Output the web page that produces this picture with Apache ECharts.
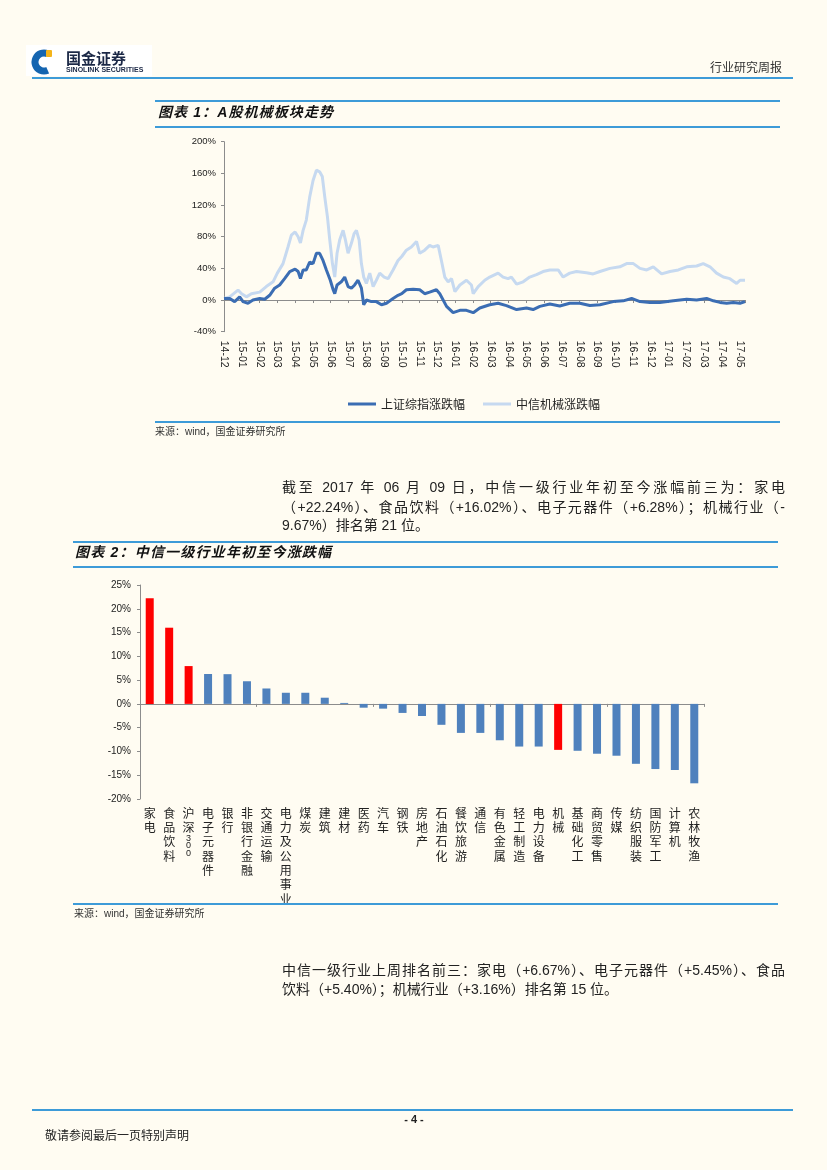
<!DOCTYPE html>
<html>
<head>
<meta charset="utf-8">
<script src="https://cdn.jsdelivr.net/npm/echarts@6/dist/echarts.min.js"></script>
<style>
  html, body { margin: 0; padding: 0; background: #FFFCF2; }
  #page { position: relative; width: 827px; height: 1170px; overflow: hidden; background: #FFFCF2; }
  #chart { position: absolute; left: 0; top: 0; width: 827px; height: 1170px; }
  .t { position: absolute; white-space: nowrap; color: #222; font-family: "Liberation Sans", "Noto Sans CJK SC", sans-serif; }
  .hl { position: absolute; height: 2px; background: #3D9BD8; }
  .title { font-weight: bold; font-style: italic; font-size: 14px; letter-spacing: 1.1px; height: 18px; line-height: 18px; color: #111; }
  .src { font-size: 10px; height: 14px; line-height: 14px; color: #333; }
  .para { position: absolute; left: 282px; width: 503px; font-size: 14px; height: 20px; line-height: 20px; color: #222;
          font-family: "Liberation Sans", "Noto Sans CJK SC", sans-serif; text-align: justify; text-align-last: justify; text-justify: inter-character; }
  .para.last { text-align: left; text-align-last: left; }
</style>
</head>
<body>
<div id="page">
  <div id="chart"></div>

  <div class="t" style="left:66px;top:50px;font-size:15px;font-weight:bold;line-height:15px;color:#1b2846;font-family:'Noto Sans CJK SC';">国金证券</div>
  <div class="t" style="left:66px;top:66px;font-size:7px;font-weight:bold;line-height:8px;color:#1b2846;">SINOLINK SECURITIES</div>
  <div class="t" style="left:710px;top:59px;font-size:12px;line-height:16px;color:#333;font-family:'Noto Sans CJK SC';">行业研究周报</div>
  <div class="hl" style="left:32px;top:77px;width:761px;"></div>

  <div class="hl" style="left:155px;top:100px;width:625px;"></div>
  <div class="t title" style="left:158px;top:103px;">图表 1：A股机械板块走势</div>
  <div class="hl" style="left:155px;top:126px;width:625px;"></div>

  <div class="hl" style="left:155px;top:421px;width:625px;"></div>
  <div class="t src" style="left:155px;top:425px;">来源：wind，国金证券研究所</div>

  <div class="para" style="top:477px;">截至 2017 年 06 月 09 日，中信一级行业年初至今涨幅前三为：家电</div>
  <div class="para" style="top:497px;">（+22.24%）、食品饮料（+16.02%）、电子元器件（+6.28%）；机械行业（-</div>
  <div class="para last" style="top:515px;">9.67%）排名第 21 位。</div>

  <div class="hl" style="left:73px;top:541px;width:705px;"></div>
  <div class="t title" style="left:75px;top:543px;letter-spacing:1.2px;">图表 2：中信一级行业年初至今涨跌幅</div>
  <div class="hl" style="left:73px;top:566px;width:705px;"></div>

  <div class="hl" style="left:73px;top:903px;width:705px;"></div>
  <div class="t src" style="left:74px;top:907px;">来源：wind，国金证券研究所</div>

  <div class="para" style="top:960px;">中信一级行业上周排名前三：家电（+6.67%）、电子元器件（+5.45%）、食品</div>
  <div class="para last" style="top:979px;">饮料（+5.40%）；机械行业（+3.16%）排名第 15 位。</div>

  <div class="hl" style="left:32px;top:1109px;width:761px;"></div>
  <div class="t" style="left:400px;top:1112px;width:28px;text-align:center;font-size:11px;font-weight:bold;line-height:14px;">- 4 -</div>
  <div class="t" style="left:45px;top:1127px;font-size:12px;line-height:16px;font-family:'Noto Sans CJK SC';color:#222;">敬请参阅最后一页特别声明</div>
</div>

<script>
// ---------- Chart 1: A股机械板块走势 (x = months since 2014-12 month end) ----------
const monthTickLabels = ['14-12','15-01','15-02','15-03','15-04','15-05','15-06','15-07','15-08','15-09',
  '15-10','15-11','15-12','16-01','16-02','16-03','16-04','16-05','16-06','16-07','16-08','16-09',
  '16-10','16-11','16-12','17-01','17-02','17-03','17-04','17-05'];

const shCompositeChange = [[0,2],[0.32,2],[0.6,-2],[0.88,4],[1.07,-2],[1.35,-4],[1.63,0],[2.01,2],[2.29,1],
  [2.57,6],[2.85,15],[3.13,19],[3.41,27],[3.7,36],[4.0,39],[4.17,36],[4.3,27],[4.45,38],[4.63,38],[4.82,48],
  [5.01,46],[5.2,59],[5.38,59],[5.57,50],[5.76,38],[5.98,25],[6.14,13],[6.23,8],[6.36,19],[6.6,23],[6.79,29],
  [6.98,17],[7.17,15],[7.35,19],[7.54,25],[7.73,15],[7.86,-6],[8.01,0],[8.29,-2],[8.57,-2],[8.86,-6],[9.14,-4],
  [9.51,2],[9.79,6],[10.0,8],[10.26,13],[10.64,13.5],[11.01,13],[11.29,8],[11.57,10],[11.95,13],[12.14,8],
  [12.52,-8],[12.89,-16],[13.27,-13],[13.64,-13],[14.02,-16],[14.39,-10],[14.95,-6],[15.42,-4],[15.89,-7],
  [16.46,-12],[17.02,-10],[17.39,-12],[17.77,-8],[18.33,-5],[18.89,-7.5],[19.45,-4],[20.02,-4],[20.58,-7],
  [21.15,-6],[21.9,-2],[22.46,-1],[22.93,2],[23.4,-2],[23.96,-3],[24.52,-3],[25.28,-1],[26.03,1],[26.59,0],
  [27.15,2],[27.53,-1],[27.9,-3],[28.28,-4],[28.65,-3],[29.03,-4],[29.31,-2]];

const citicMachineryChange = [[0,2],[0.32,4],[0.79,12.6],[0.99,8],[1.26,4],[1.54,8],[2.01,10],[2.38,17],
  [2.76,23],[3.0,34],[3.32,46],[3.6,67],[3.79,82],[4.0,86],[4.17,80],[4.3,72],[4.45,88],[4.63,101],[4.82,130],
  [5.01,151],[5.2,164],[5.38,162],[5.53,156],[5.67,130],[5.82,105],[5.95,76],[6.1,46],[6.23,29],[6.36,59],
  [6.51,76],[6.7,88],[6.83,76],[6.98,59],[7.17,72],[7.32,84],[7.45,88],[7.6,76],[7.73,46],[7.86,29],[8.01,21],
  [8.2,34],[8.39,17],[8.57,25],[8.76,34],[9.01,29],[9.23,27],[9.51,38],[9.79,50],[10.0,55],[10.26,63],
  [10.54,67],[10.83,74],[11.01,59],[11.29,63],[11.57,69],[11.76,67],[12.05,69],[12.23,50],[12.42,29],
  [12.61,23],[12.8,27],[12.99,10.5],[13.27,19],[13.64,25],[13.92,19],[14.02,8],[14.3,17],[14.67,25],
  [14.95,29],[15.42,34],[15.7,29],[15.98,27],[16.17,29],[16.46,20],[16.83,23],[17.2,29],[17.58,32],
  [17.95,36],[18.33,38],[18.8,38],[19.08,29],[19.45,34],[19.83,36],[20.39,34.5],[20.77,33],[21.15,36],
  [21.71,40],[22.27,42],[22.65,46],[23.03,46],[23.4,40],[23.78,38],[24.15,42],[24.62,33],[25.09,36],
  [25.56,38],[26.03,42],[26.59,43],[26.96,46],[27.34,42],[27.71,34],[28.09,29],[28.46,27],[28.84,21],
  [29.03,25],[29.31,25]];

const lineSeriesNames = ['上证综指涨跌幅', '中信机械涨跌幅'];

// ---------- Chart 2: 中信一级行业年初至今涨跌幅 ----------
const industries = ['家电','食品饮料','沪深300','电子元器件','银行','非银行金融','交通运输','电力及公用事业',
  '煤炭','建筑','建材','医药','汽车','钢铁','房地产','石油石化','餐饮旅游','通信','有色金属','轻工制造',
  '电力设备','机械','基础化工','商贸零售','传媒','纺织服装','国防军工','计算机','农林牧渔'];
const ytdChange = [22.24, 16.02, 7.95, 6.28, 6.25, 4.76, 3.24, 2.34, 2.34, 1.3, 0.2, -0.8, -1.0, -1.9, -2.55,
  -4.4, -6.1, -6.1, -7.65, -8.97, -8.97, -9.67, -9.86, -10.48, -10.9, -12.6, -13.7, -13.9, -16.7];
const highlightedIndustries = ['家电', '食品饮料', '沪深300', '机械'];

const CJK = '"Noto Sans CJK SC", sans-serif';
const LAT = '"Liberation Sans", Arial, sans-serif';
const AXIS_GREY = '#8c8c8c';
const BLUE_BAR = '#4F81BD';
const RED_BAR = '#FF0000';

function verticalLabel(name) {
  return name.split('').map(function (c) { return /\d/.test(c) ? '{d|' + c + '}' : c; }).join('\n');
}

const chart = echarts.init(document.getElementById('chart'), null, { renderer: 'canvas' });

const option = {
  animation: false,
  backgroundColor: 'transparent',
  graphic: [
    { type: 'rect', shape: { x: 26, y: 45, width: 126, height: 31 }, style: { fill: '#ffffff' }, silent: true },
    { type: 'arc', shape: { cx: 44, cy: 62, r: 9, startAngle: -1.15, endAngle: 1.15, clockwise: false },
      style: { stroke: '#1565B0', lineWidth: 7, fill: null }, silent: true },
    { type: 'rect', shape: { x: 46, y: 50, width: 6, height: 7, r: 1 }, style: { fill: '#F4B41A' }, silent: true }
  ],
  legend: {
    left: 343, top: 393, icon: 'rect', itemWidth: 28, itemHeight: 3, itemGap: 18,
    textStyle: { fontSize: 12, color: '#222', fontFamily: CJK },
    data: lineSeriesNames
  },
  grid: [
    { left: 224, top: 141.7, width: 521, height: 190 },
    { left: 140, top: 585, width: 564, height: 214 }
  ],
  xAxis: [
    { type: 'value', gridIndex: 0, min: 0, max: 29.31, interval: 1,
      axisLine: { show: true, onZero: true, lineStyle: { color: AXIS_GREY, width: 1 } },
      axisTick: { show: true, length: 3, lineStyle: { color: AXIS_GREY } },
      axisLabel: { show: false }, splitLine: { show: false } },
    { type: 'value', gridIndex: 0, position: 'bottom', min: 0, max: 29.31, interval: 1,
      axisLine: { show: false, onZero: false }, axisTick: { show: false }, splitLine: { show: false },
      axisLabel: { show: true, rotate: -90, margin: 9, fontSize: 10.5, color: '#222', fontFamily: LAT,
        showMaxLabel: false,
        formatter: function (v) {
          const r = Math.round(v);
          return Math.abs(v - r) < 1e-6 && monthTickLabels[r] ? monthTickLabels[r] : '';
        } } },
    { type: 'category', gridIndex: 1, data: industries,
      axisLine: { show: true, onZero: true, lineStyle: { color: AXIS_GREY, width: 1 } },
      axisTick: { show: true, length: 3, lineStyle: { color: AXIS_GREY } },
      axisLabel: { show: false }, splitLine: { show: false } },
    { type: 'category', gridIndex: 1, data: industries, position: 'bottom',
      axisLine: { show: false, onZero: false }, axisTick: { show: false },
      axisLabel: { show: true, interval: 0, margin: 7, fontSize: 12, lineHeight: 14.3, color: '#222',
        fontFamily: CJK, formatter: verticalLabel,
        rich: { d: { fontSize: 9, lineHeight: 7.5, fontFamily: LAT, color: '#222' } } } }
  ],
  yAxis: [
    { type: 'value', gridIndex: 0, min: -40, max: 200, interval: 40,
      axisLine: { show: true, lineStyle: { color: AXIS_GREY } },
      axisTick: { show: true, length: 3, lineStyle: { color: AXIS_GREY } },
      axisLabel: { formatter: '{value}%', fontSize: 9.5, color: '#222', fontFamily: LAT, margin: 8 },
      splitLine: { show: false } },
    { type: 'value', gridIndex: 1, min: -20, max: 25, interval: 5,
      axisLine: { show: true, lineStyle: { color: AXIS_GREY } },
      axisTick: { show: true, length: 3, lineStyle: { color: AXIS_GREY } },
      axisLabel: { formatter: '{value}%', fontSize: 10, color: '#222', fontFamily: LAT, margin: 9 },
      splitLine: { show: false } }
  ],
  series: [
    { name: lineSeriesNames[1], type: 'line', xAxisIndex: 0, yAxisIndex: 0, data: citicMachineryChange,
      showSymbol: false, symbol: 'none', z: 2, itemStyle: { color: '#C6D9F0' },
      lineStyle: { color: '#C6D9F0', width: 3 } },
    { name: lineSeriesNames[0], type: 'line', xAxisIndex: 0, yAxisIndex: 0, data: shCompositeChange,
      showSymbol: false, symbol: 'none', z: 3, itemStyle: { color: '#3B6DB3' },
      lineStyle: { color: '#3B6DB3', width: 3 } },
    { name: '年初至今涨跌幅', type: 'bar', xAxisIndex: 2, yAxisIndex: 1, barWidth: 8,
      data: ytdChange.map(function (v, i) {
        return { value: v, itemStyle: { color: highlightedIndustries.indexOf(industries[i]) >= 0 ? RED_BAR : BLUE_BAR } };
      }) }
  ]
};

chart.setOption(option);
</script>
</body>
</html>
